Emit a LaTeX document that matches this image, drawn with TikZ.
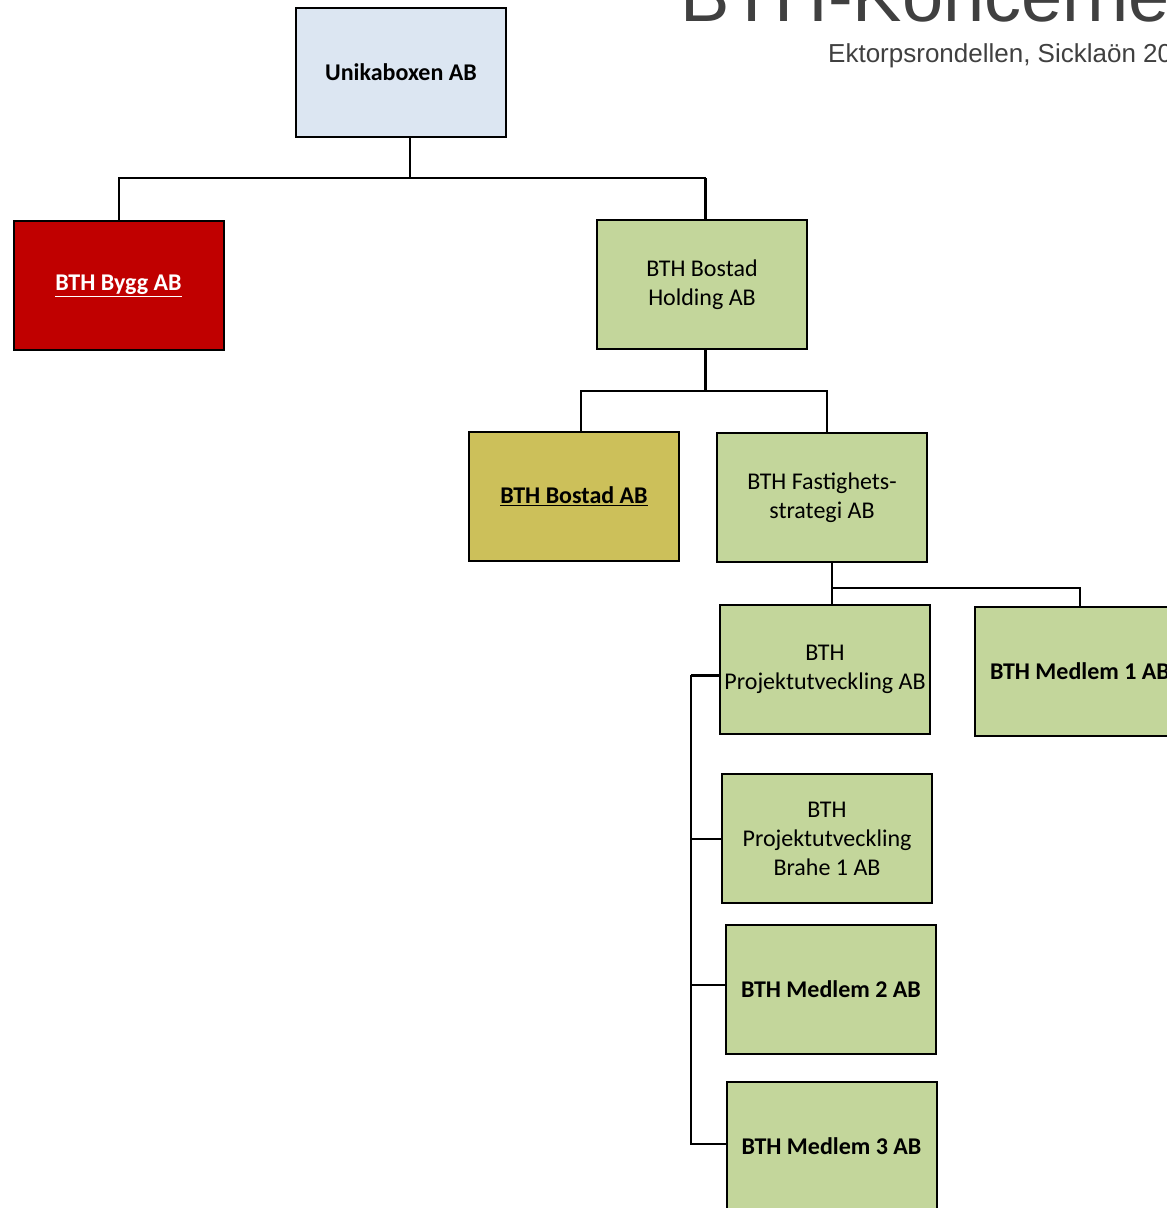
\documentclass[tikz,border=0pt]{standalone}
\usepackage{fontspec}
\setmainfont{Carlito}
\newfontfamily\titlefont{Liberation Sans}
\definecolor{boxblue}{HTML}{DCE6F2}
\definecolor{boxred}{HTML}{C00000}
\definecolor{boxgreen}{HTML}{C3D69B}
\definecolor{boxolive}{HTML}{CCC05A}
\definecolor{titlegray}{HTML}{404040}
\tikzset{
  orgbox/.style={draw=black, line width=2pt, minimum width=210pt, minimum height=129pt,
    align=center, inner sep=0pt, font=\fontsize{24}{29}\selectfont},
  conn/.style={draw=black, line width=2pt},
  thickconn/.style={draw=black, line width=3pt},
}
\begin{document}
\begin{tikzpicture}[x=1pt,y=-1pt]
\useasboundingbox (0,0) rectangle (1167,1208);
\clip (0,0) rectangle (1167,1208);
\fill[white] (0,0) rectangle (1167,1208);

% title
\node[anchor=base west, inner sep=0pt, text=titlegray, font=\titlefont\fontsize{74}{80}\selectfont] (title) at (680,21) {BTH-Koncernen};
\node[anchor=base west, inner sep=0pt, text=titlegray, font=\titlefont\fontsize{26}{30}\selectfont] (sub) at (828,62) {Ektorpsrondellen, Sicklaön 20};

% boxes
\node[orgbox, fill=boxblue, font=\bfseries\fontsize{24}{29}\selectfont] (uni) at (401,72.5) {Unikaboxen AB};
\node[orgbox, fill=boxred, text=white, font=\bfseries\fontsize{24}{29}\selectfont] (bygg) at (118.5,285.5) {\underline{BTH Bygg AB}};
\node[orgbox, fill=boxgreen] (hold) at (702,284.5) {BTH Bostad\\Holding AB};
\node[orgbox, fill=boxolive, font=\bfseries\fontsize{24}{29}\selectfont] (bostad) at (574,496.5) {\underline{BTH Bostad AB}};
\node[orgbox, fill=boxgreen] (fast) at (822,497.5) {BTH Fastighets-\\strategi AB};
\node[orgbox, fill=boxgreen] (proj) at (825,669.5) {BTH\\Projektutveckling AB};
\node[orgbox, fill=boxgreen, font=\bfseries\fontsize{24}{29}\selectfont] (m1) at (1080,671.5) {BTH Medlem 1 AB};
\node[orgbox, fill=boxgreen] (brahe) at (827,838.5) {BTH\\Projektutveckling\\Brahe 1 AB};
\node[orgbox, fill=boxgreen, font=\bfseries\fontsize{24}{29}\selectfont] (m2) at (831,989.5) {BTH Medlem 2 AB};
\node[orgbox, fill=boxgreen, font=\bfseries\fontsize{24}{29}\selectfont] (m3) at (831.5,1146.5) {BTH Medlem 3 AB};

% connectors level 1
\coordinate (unibot) at ([xshift=9]uni.south);
\coordinate (j1) at (410,178);
\coordinate (byggtop) at (bygg.north);
\coordinate (holdtop) at ([xshift=3]hold.north);
\draw[conn] (unibot) -- (j1);
\draw[conn] (byggtop) |- (j1);
\draw[conn] (j1) -| (holdtop);
\draw[thickconn] (holdtop |- j1) -- (holdtop);

% level 2
\coordinate (holdbot) at ([xshift=3]hold.south);
\coordinate (j2) at (705,391);
\coordinate (bostadtop) at ([xshift=7]bostad.north);
\coordinate (fasttop) at ([xshift=5]fast.north);
\draw[thickconn] (holdbot) -- (j2);
\draw[conn] (bostadtop) |- (j2);
\draw[conn] (j2) -| (fasttop);

% level 3
\coordinate (fastbot) at ([xshift=10]fast.south);
\coordinate (j3) at (832,588);
\coordinate (projtop) at ([xshift=7]proj.north);
\coordinate (m1top) at (m1.north);
\draw[conn] (fastbot) -- (j3) -- (projtop);
\draw[conn] (j3) -| (m1top);

% bracket
\coordinate (bus) at (691,0);
\coordinate (projw) at ([yshift=-5.5]proj.west);
\coordinate (m2w) at ([yshift=4.5]m2.west);
\coordinate (m3w) at ([yshift=2.5]m3.west);
\draw[thickconn] (projw) -- (projw -| bus);
\draw[conn] (projw -| bus) -- (m3w -| bus) -- (m3w);
\draw[conn] (brahe.west) -- (brahe.west -| bus);
\draw[conn] (m2w) -- (m2w -| bus);
\end{tikzpicture}
\end{document}
